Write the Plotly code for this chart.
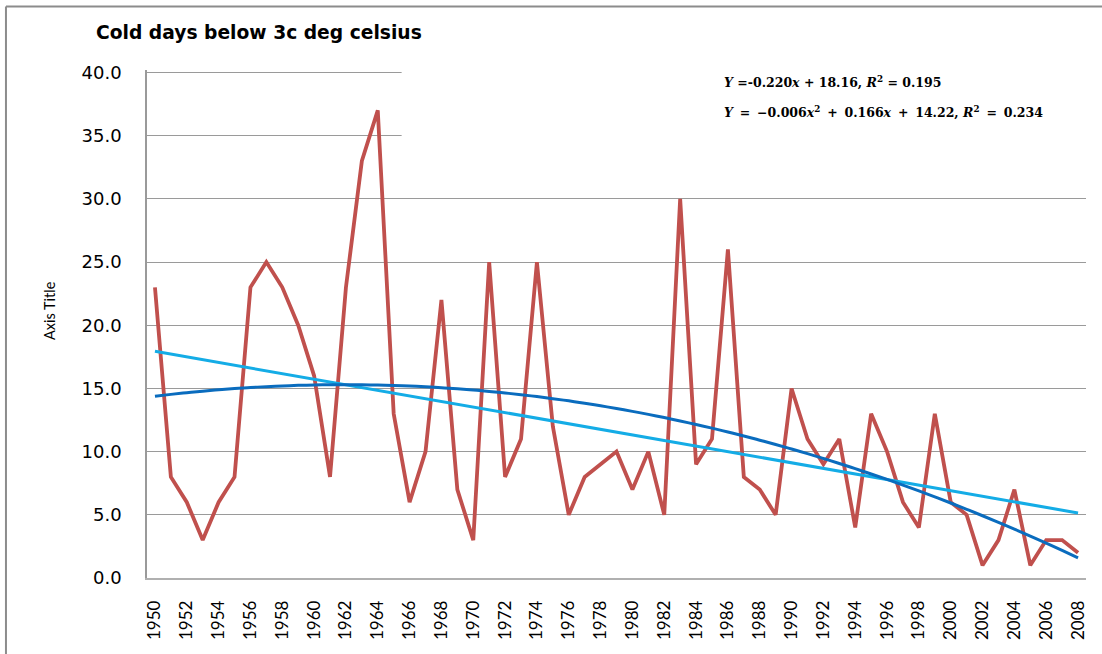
import numpy as np
import plotly.graph_objects as go

# Yearly count of cold days (below 3 degrees C)
years = list(range(1950, 2009))
cold_days = [
    23, 8, 6, 3, 6, 8, 23, 25, 23, 20,
    16, 8, 23, 33, 37, 13, 6, 10, 22, 7,
    3, 25, 8, 11, 25, 12, 5, 8, 9, 10,
    7, 10, 5, 30, 9, 11, 26, 8, 7, 5,
    15, 11, 9, 11, 4, 13, 10, 6, 4, 13,
    6, 5, 1, 3, 7, 1, 3, 3, 2,
]
tick_years = years[::2]
y_ticks = [0, 5, 10, 15, 20, 25, 30, 35, 40]

title_text = "Cold days below 3c deg celsius"
axis_title = "Axis Title"
T = "\u2009"  # thin space to loosen operator spacing
eq_linear = "<b><i>Y</i> =-0.220<i>x</i> + 18.16, <i>R</i><sup>2</sup> = 0.195</b>"
eq_poly = ("<b><i>Y</i>" + T + " =" + T + " \u22120.006<i>x</i><sup>2</sup>" + T + " +" + T
           + " 0.166<i>x</i>" + T + " +" + T + " 14.22, <i>R</i><sup>2</sup>" + T + " =" + T
           + " 0.234</b>")

# Trend lines fitted on the series index (1..n)
idx = np.arange(1, len(years) + 1)
lin = np.polyval(np.polyfit(idx, cold_days, 1), idx)
quad = np.polyval(np.polyfit(idx, cold_days, 2), idx)

RED = "#C0504D"
LIGHT_BLUE = "#14ACE6"
DARK_BLUE = "#0A6CBE"
GRID = "#9a9a9a"

fig = go.Figure()
fig.add_trace(go.Scatter(x=years, y=cold_days, mode="lines",
                         line=dict(color=RED, width=3.8), showlegend=False))
fig.add_trace(go.Scatter(x=years, y=lin, mode="lines",
                         line=dict(color=LIGHT_BLUE, width=3), showlegend=False))
fig.add_trace(go.Scatter(x=years, y=quad, mode="lines", line_shape="spline",
                         line=dict(color=DARK_BLUE, width=3), showlegend=False))

fig.update_layout(
    width=1102, height=654,
    margin=dict(l=147, r=16, t=70, b=76),
    paper_bgcolor="white", plot_bgcolor="white",
    font=dict(family="DejaVu Sans", color="#000000"),
    xaxis=dict(
        range=[1949.5, 2008.5],
        tickmode="array", tickvals=tick_years, ticktext=[str(y) for y in tick_years],
        tickangle=-90, tickfont=dict(family="Lato", size=17, color="#000000"),
        showgrid=False, zeroline=False,
        showline=True, linecolor="#b0b0b0", linewidth=1.5,
        ticks="", ticklabelstandoff=14,
    ),
    yaxis=dict(
        range=[0, 40.2], tickmode="array", tickvals=y_ticks,
        ticktext=[f"{v:.1f}" for v in y_ticks],
        tickfont=dict(family="DejaVu Sans", size=18, color="#000000"),
        showgrid=True, gridcolor=GRID, gridwidth=1,
        zeroline=False, showline=True, linecolor="#9a9a9a", linewidth=1.5,
        ticks="", ticklabelstandoff=20,
    ),
    shapes=[
        # blank panel behind the trend equations
        dict(type="rect", xref="x", yref="y", x0=1965.5, x1=2008.6, y0=33.0, y1=40.8,
             fillcolor="white", line=dict(width=0), layer="between"),
        # outer chart border (left and top edges)
        dict(type="line", xref="paper", yref="paper", x0=-0.1502, x1=-0.1502,
             y0=-0.17, y1=1.1250, line=dict(color="#8c8c8c", width=2)),
        dict(type="line", xref="paper", yref="paper", x0=-0.1502, x1=1.03,
             y0=1.1250, y1=1.1250, line=dict(color="#8c8c8c", width=2)),
    ],
    annotations=[
        dict(text=f"<b>{title_text}</b>", xref="paper", yref="paper",
             x=-0.0565, y=1.0748, xanchor="left", yanchor="middle", showarrow=False,
             font=dict(family="DejaVu Sans", size=18.7, color="#000000")),
        dict(text=axis_title, xref="paper", yref="paper", textangle=-90,
             x=-0.1033, y=0.5256, xanchor="center", yanchor="middle", showarrow=False,
             font=dict(family="Lato", size=14.5, color="#000000")),
        dict(text=eq_linear, xref="paper", yref="paper",
             x=0.6124, y=0.9764, xanchor="left", yanchor="middle", showarrow=False,
             font=dict(family="DejaVu Serif", size=12.5, color="#000000")),
        dict(text=eq_poly, xref="paper", yref="paper",
             x=0.6124, y=0.9173, xanchor="left", yanchor="middle", showarrow=False,
             font=dict(family="DejaVu Serif", size=12.5, color="#000000")),
    ],
)

fig.write_html("out.html")
